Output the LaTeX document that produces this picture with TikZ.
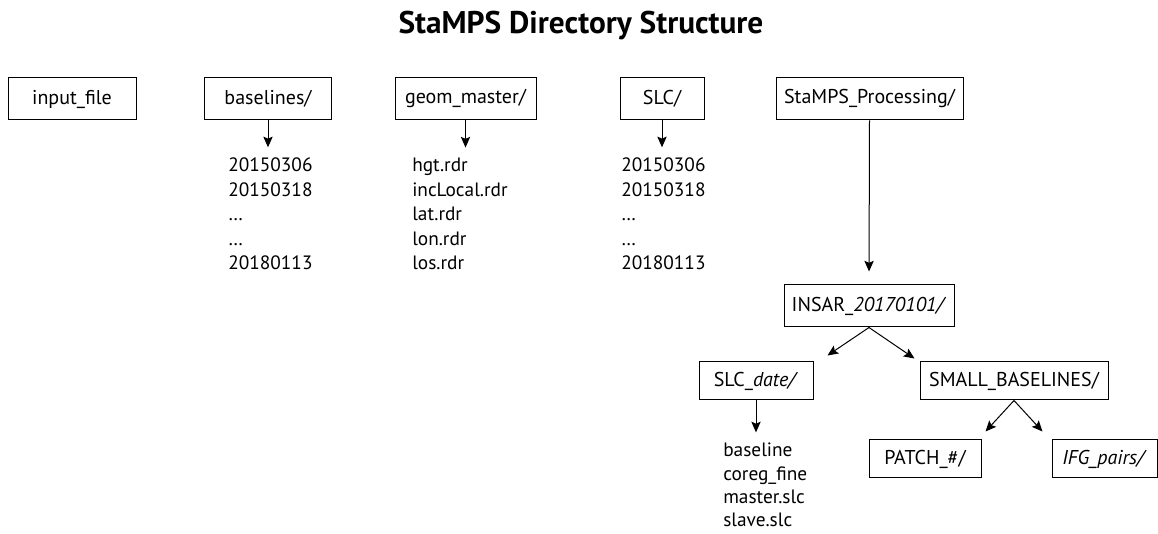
\documentclass[tikz,border=0pt]{standalone}
\usepackage{fontspec}
\setmainfont{PT Sans}
\usetikzlibrary{arrows.meta,calc}
\tikzset{
  dirbox/.style={draw, line width=0.75pt, minimum height=31.5pt, inner sep=0pt,
    font=\fontsize{15}{18}\selectfont},
  subbox/.style={dirbox, minimum height=28.5pt},
  listitem/.style={anchor=base west, inner sep=0pt, font=\fontsize{14.5}{17}\selectfont},
  arr/.style={-{Stealth[length=8pt,width=7pt,inset=1.5pt]}, line width=0.75pt}
}
\begin{document}
\begin{tikzpicture}[x=0.75pt,y=-0.75pt]
\useasboundingbox (0,0) rectangle (1158,534);
\node[anchor=base, inner sep=0pt, font=\fontsize{23.5}{28}\selectfont\bfseries] (title) at (581,34) {StaMPS Directory Structure};

% top level folders
\node[dirbox, minimum width=96pt] (inp) at (72,99) {input\_file};
\node[dirbox, minimum width=95.25pt] (bsl) at (268,99) {baselines/};
\node[dirbox, minimum width=105.75pt] (geo) at (465.5,99) {geom\_master/};
\node[dirbox, minimum width=63pt] (slc) at (662,99) {SLC/};
\node[dirbox, minimum width=140.25pt] (stp) at (869.5,99) {StaMPS\_Processing/};

% file lists
\foreach \d [count=\i] in {20150306,20150318,\dots,\dots,20180113}
  \node[listitem] (bl\i) at (228,{172+24.5*(\i-1)}) {\d};
\foreach \f [count=\i] in {hgt.rdr,incLocal.rdr,lat.rdr,lon.rdr,los.rdr}
  \node[listitem] (gl\i) at (412,{172+24.5*(\i-1)}) {\f};
\foreach \d [count=\i] in {20150306,20150318,\dots,\dots,20180113}
  \node[listitem] (sl\i) at (621,{172+24.5*(\i-1)}) {\d};

\draw[arr, shorten >=8pt] (bsl.south) -- (bsl.south |- bl1.north);
\draw[arr, shorten >=8pt] (geo.south) -- (geo.south |- gl1.north);
\draw[arr, shorten >=8pt] (slc.south) -- (slc.south |- sl1.north);

% processing tree
\node[dirbox, minimum width=127.5pt] (ins) at (869,306) {INSAR\_\textit{20170101/}};
\node[subbox, minimum width=85.5pt] (sld) at (756,381) {SLC\_\textit{date/}};
\node[subbox, minimum width=141pt] (sbl) at (1014,381) {SMALL\_BASELINES/};
\node[subbox, minimum width=84pt] (pat) at (925,459) {PATCH\_\#/};
\node[subbox, minimum width=78.75pt] (ifg) at (1104.5,459) {\textit{IFG\_pairs/}};

\foreach \f [count=\i] in {baseline,coreg\_fine,master.slc,slave.slc}
  \node[listitem] (dl\i) at (723,{457+23.3*(\i-1)}) {\f};

\draw[arr, shorten >=9.75pt] (stp.south) -- (ins.north);
\draw[arr] (ins.south) -- ($(sld.north east)+(14,-6)$);
\draw[arr] (ins.south) -- ($(sbl.north west)+(-5,-3)$);
\draw[arr, shorten >=8pt] (sld.south) -- (sld.south |- dl1.north);
\draw[arr] (sbl.south) -- ($(pat.north east)+(4,-8)$);
\draw[arr] (sbl.south) -- ($(ifg.north west)+(-9,-8)$);
\end{tikzpicture}
\end{document}
